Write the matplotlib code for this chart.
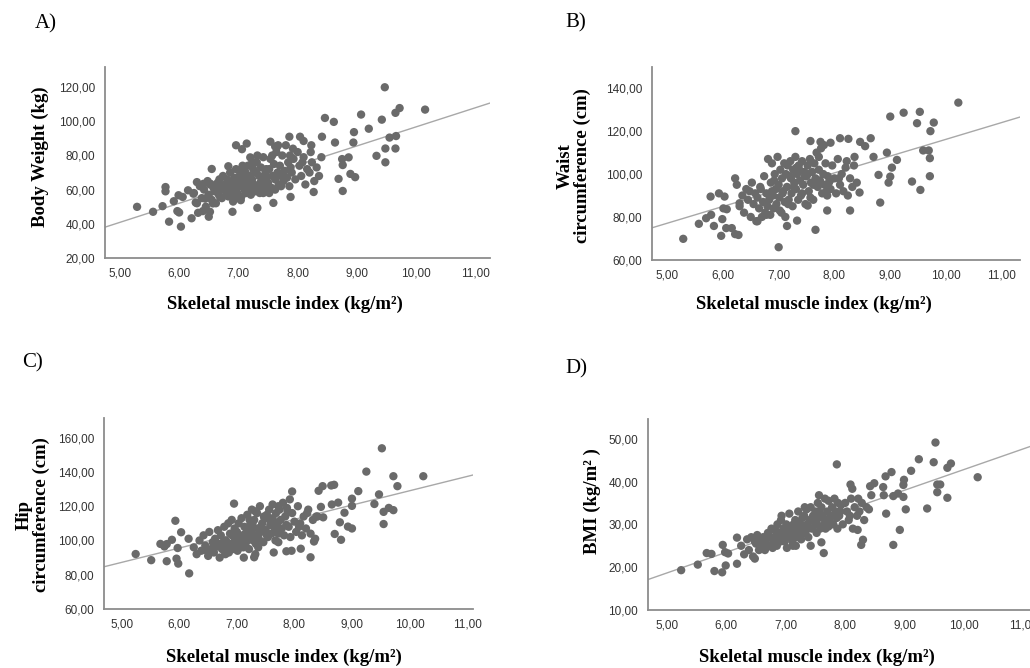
import numpy as np
import matplotlib.pyplot as plt
from matplotlib.ticker import FuncFormatter

# skeletal muscle index of the dense middle group (same x for all four panels)
smi_core = [6.25, 6.3, 6.35, 6.38, 6.42, 6.45, 6.5, 6.52, 6.55, 6.58,
            6.6, 6.62, 6.65, 6.67, 6.7, 6.72, 6.74, 6.76, 6.78, 6.8,
            6.81, 6.83, 6.85, 6.86, 6.88, 6.9, 6.91, 6.93, 6.95, 6.96,
            6.98, 7.0, 7.01, 7.03, 7.05, 7.06, 7.08, 7.1, 7.11, 7.13,
            7.15, 7.16, 7.18, 7.2, 7.21, 7.23, 7.25, 7.26, 7.28, 7.3,
            7.31, 7.33, 7.35, 7.36, 7.38, 7.4, 7.42, 7.44, 7.46, 7.48,
            7.5, 7.52, 7.54, 7.56, 7.58, 7.6, 7.62, 7.64, 7.66, 7.68,
            7.7, 7.72, 7.74, 7.76, 7.78, 7.8, 7.82, 7.84, 7.86, 7.88,
            7.9, 7.93, 7.96, 8.0, 8.03, 8.06, 8.1, 8.13, 8.16, 8.2,
            8.24, 8.28, 8.32, 8.36, 8.4, 6.88, 7.02, 7.22, 7.42, 7.62,
            7.12, 7.32, 7.52, 7.72, 7.92, 6.68, 6.78, 7.07, 7.27, 7.47,
            7.67, 7.87, 8.08, 8.22, 6.48, 6.62, 6.92, 7.17, 7.37, 7.57]

weight_core = [58, 52, 62, 55, 60, 50, 57, 63, 54, 61,
               59, 52, 64, 57, 61, 55, 68, 60, 63, 58,
               66, 56, 62, 70, 59, 64, 53, 67, 61, 72,
               58, 65, 62, 69, 56, 63, 71, 60, 66, 58,
               64, 74, 61, 68, 57, 66, 72, 63, 59, 70,
               76, 62, 68, 58, 73, 65, 79, 61, 70, 67,
               64, 72, 78, 61, 68, 75, 66, 82, 70, 63,
               74, 68, 80, 65, 71, 86, 67, 76, 62, 73,
               70, 78, 66, 82, 74, 68, 79, 63, 72, 70,
               76, 65, 73, 68, 79, 60, 55, 75, 58, 60,
               70, 80, 58, 62, 84, 66, 62, 74, 76, 72,
               86, 80, 76, 82, 65, 62, 56, 67, 64, 80]

waist_core = [95, 85, 90, 82, 93, 88, 80, 96, 86, 91,
              78, 89, 84, 94, 80, 87, 99, 82, 91, 85,
              107, 88, 81, 96, 105, 90, 84, 100, 93, 86,
              108, 95, 89, 102, 82, 98, 92, 105, 87, 100,
              94, 104, 88, 99, 106, 91, 85, 102, 96, 108,
              93, 100, 88, 104, 97, 90, 106, 95, 101, 86,
              99, 104, 92, 107, 96, 101, 88, 105, 98, 110,
              94, 102, 97, 112, 91, 100, 95, 105, 92, 99,
              96, 93, 104, 98, 91, 107, 95, 100, 92, 103,
              90, 98, 94, 108, 96, 92, 83, 98, 91, 95,
              80, 103, 100, 108, 97, 93, 81, 91, 94, 99,
              95, 90, 98, 106, 92, 78, 97, 86, 102, 89]

hip_core = [96, 92, 100, 94, 103, 97, 91, 105, 95, 99,
            93, 101, 97, 106, 90, 103, 95, 99, 108, 92,
            100, 96, 110, 93, 104, 98, 112, 95, 102, 107,
            99, 105, 94, 110, 101, 97, 113, 103, 96, 108,
            104, 99, 115, 102, 95, 109, 106, 118, 100, 112,
            103, 98, 116, 107, 101, 120, 105, 110, 99, 113,
            106, 115, 102, 118, 109, 104, 121, 111, 107, 116,
            110, 104, 118, 112, 107, 122, 103, 114, 109, 117,
            108, 102, 116, 111, 105, 120, 110, 103, 114, 107,
            118, 104, 112, 101, 114, 97, 95, 112, 108, 113,
            90, 117, 103, 120, 124, 98, 94, 100, 110, 114,
            100, 119, 108, 116, 94, 96, 103, 107, 96, 112]

bmi_core = [25, 23, 26.5, 24, 27, 22.5, 25.5, 27.5, 24, 26,
            25, 27, 24, 26.5, 28, 25, 27, 29, 25.5, 27,
            26, 28.5, 25, 30, 27, 28, 26, 32, 27.5, 29,
            26, 28, 30, 27, 29, 32.5, 27.5, 29.5, 26, 30,
            28, 31, 27, 29, 33, 28.5, 30, 26.5, 31.5, 29,
            32, 28, 33.5, 30, 27, 31, 34, 29, 32, 30.5,
            33, 30, 35, 31.5, 29, 34, 32, 30, 36, 31,
            33, 35.5, 31, 32, 34, 30, 36, 33, 31.5, 35,
            32, 34.5, 30, 35, 33, 31, 36, 29, 34, 32,
            33, 35, 31, 34, 33.5, 27, 24.5, 30.5, 25, 32,
            25, 34, 28, 29.5, 33, 25, 24.5, 27, 28, 31,
            29, 29, 32, 36, 26, 26.5, 31, 25, 29, 33]

# points outside the dense middle, read per panel
smi_a = [5.29, 5.56, 5.72, 5.77, 5.77, 5.83, 5.97, 6.0, 6.03, 5.91, 5.99, 6.06,
         6.15, 6.21, 6.24, 6.28, 6.3, 6.32, 6.4, 6.41, 6.44, 6.5, 6.52, 6.53,
         6.55, 6.57, 6.63, 6.69, 6.75, 6.83, 6.9, 6.96, 7.06, 7.14, 7.04, 7.32,
         7.2, 7.54, 7.62, 7.65, 7.59, 7.86, 7.88, 8.04, 8.1, 8.23, 8.27, 8.41,
         8.46, 8.61, 8.63, 8.69, 8.75, 8.76, 8.76, 8.86, 8.89, 8.97, 8.95, 8.94,
         9.07, 9.2, 9.33, 9.42, 9.47, 9.48, 9.48, 9.55, 9.65, 9.72, 9.65, 9.66,
         10.15]
weight_a = [49.9, 47.0, 50.3, 61.5, 59.0, 41.2, 47.4, 46.6, 38.3, 53.2, 56.7, 55.7,
            59.6, 43.2, 57.6, 52.4, 64.4, 46.4, 47.4, 63.4, 54.7, 44.1, 47.0, 63.4,
            72.1, 51.9, 60.5, 55.7, 62.5, 73.7, 47.0, 86.0, 83.7, 87.0, 53.8, 49.3,
            78.9, 88.1, 85.3, 85.0, 52.2, 91.0, 55.7, 91.0, 88.5, 86.0, 58.6, 91.0,
            102.0, 99.7, 87.6, 66.3, 77.9, 74.4, 59.2, 78.9, 69.2, 67.3, 93.7, 87.6,
            104.0, 95.7, 79.8, 101.0, 120.0, 76.0, 84.1, 90.5, 105.0, 107.8, 84.1, 91.4,
            106.9]

smi_b = [5.29, 5.57, 5.7, 5.79, 5.78, 5.84, 5.93, 5.97, 5.99, 6.03, 6.01, 6.06,
         6.07, 6.16, 6.22, 6.28, 6.22, 6.3, 7.0, 7.15, 7.33, 7.3, 7.66, 7.52,
         7.87, 8.28, 8.82, 8.97, 9.0, 9.03, 9.0, 9.24, 9.39, 9.48, 9.53, 9.54,
         9.59, 9.69, 9.71, 9.71, 9.72, 9.78, 10.22, 8.94, 9.12, 8.79, 8.7, 8.65,
         8.46, 8.1, 8.25, 7.93, 7.75, 7.57, 7.81, 8.45, 8.55, 8.35]
waist_b = [69.8, 76.8, 79.4, 81.0, 89.5, 75.8, 91.0, 71.2, 79.0, 89.5, 84.0, 74.8,
           83.6, 74.8, 72.0, 71.6, 98.0, 86.4, 65.9, 75.8, 78.3, 120.0, 74.0, 85.3,
           83.0, 83.0, 86.7, 96.0, 98.8, 103.0, 126.8, 128.6, 96.5, 123.7, 129.0, 92.6,
           111.0, 111.0, 107.4, 99.0, 120.0, 124.0, 133.3, 110.0, 106.6, 99.6, 108.0, 116.7,
           115.0, 116.7, 116.4, 114.6, 115.0, 115.4, 113.5, 91.4, 113.0, 104.0]

smi_c = [5.24, 5.51, 5.67, 5.78, 5.74, 5.78, 5.87, 5.93, 5.97, 5.95, 5.98, 6.03,
         6.17, 6.16, 6.95, 7.3, 7.32, 7.64, 7.72, 7.86, 7.95, 7.96, 8.11, 8.28,
         8.34, 8.42, 8.49, 8.64, 8.69, 8.46, 8.65, 8.76, 8.7, 8.81, 8.79, 8.87,
         8.93, 9.0, 9.0, 9.0, 9.11, 9.25, 9.39, 9.47, 9.52, 9.55, 9.55, 9.64,
         9.72, 9.72, 9.79, 10.24, 8.5, 8.38]
hip_c = [92.1, 88.5, 98.0, 97.9, 96.5, 87.9, 100.4, 111.5, 95.6, 89.4, 86.5, 104.8,
         80.8, 101.0, 121.5, 90.2, 92.0, 93.0, 99.0, 93.7, 94.0, 128.6, 95.2, 90.2,
         99.4, 129.0, 131.7, 132.1, 132.5, 119.6, 121.0, 122.1, 103.8, 100.4, 110.6, 116.2,
         108.1, 107.0, 120.2, 124.4, 128.8, 140.2, 121.3, 126.9, 153.8, 116.7, 109.6, 119.0,
         117.7, 137.5, 131.7, 137.5, 113.5, 114.0]

smi_d = [5.24, 5.52, 5.67, 5.75, 5.8, 5.93, 5.94, 5.99, 5.98, 6.03, 6.18, 6.18,
         6.48, 7.64, 7.6, 7.56, 7.86, 8.09, 8.12, 8.27, 8.3, 8.21, 8.44, 8.42,
         8.49, 8.64, 8.68, 8.78, 8.69, 8.65, 8.81, 8.92, 8.81, 8.89, 8.98, 8.99,
         8.98, 9.02, 9.11, 9.24, 9.38, 9.49, 9.52, 9.55, 9.6, 9.55, 9.72, 9.72,
         9.78, 10.23]
bmi_d = [19.3, 20.6, 23.3, 23.1, 19.1, 18.8, 25.2, 20.4, 23.5, 23.2, 20.8, 26.9,
         22.0, 23.3, 25.8, 36.8, 44.0, 39.3, 38.3, 25.2, 26.4, 28.7, 36.8, 38.9,
         39.6, 38.7, 41.2, 42.2, 32.5, 36.8, 25.2, 28.7, 36.6, 37.2, 36.4, 40.4,
         39.2, 33.5, 42.5, 45.2, 33.7, 44.5, 49.1, 39.3, 39.3, 37.5, 36.2, 43.2,
         44.2, 41.0]

# fit lines: (intercept, slope)
fit_a = (-15.2, 11.2)
fit_b = (37.9, 7.83)
fit_c = (45.5, 8.35)
fit_d = (-5.5, 4.83)

x_ticks = [5, 6, 7, 8, 9, 10, 11]

panels = [
    dict(letter='A)', ylabel='Body Weight (kg)', y_core=weight_core, x_ext=smi_a, y_ext=weight_a,
         fit=fit_a, yticks=[20, 40, 60, 80, 100, 120], ylim=(20, 131.6), xlim=(4.75, 11.25),
         rect=[0.102, 0.614, 0.374, 0.285], letter_xy=(35, 24), xlab_xy=(285, 304), ylab_xy=(40, 157)),
    dict(letter='B)', ylabel='Waist\ncircumference (cm)', y_core=waist_core, x_ext=smi_b, y_ext=waist_b,
         fit=fit_b, yticks=[60, 80, 100, 120, 140], ylim=(60, 150), xlim=(4.73, 11.32),
         rect=[0.633, 0.611, 0.357, 0.289], letter_xy=(565, 23), xlab_xy=(814, 304), ylab_xy=(574, 166)),
    dict(letter='C)', ylabel='Hip\ncircumference (cm)', y_core=hip_core, x_ext=smi_c, y_ext=hip_c,
         fit=fit_c, yticks=[60, 80, 100, 120, 140, 160], ylim=(60, 171.5), xlim=(4.69, 11.1),
         rect=[0.101, 0.0883, 0.358, 0.286], letter_xy=(22, 363), xlab_xy=(284, 657), ylab_xy=(33, 515)),
    dict(letter='D)', ylabel='BMI (kg/m² )', y_core=bmi_core, x_ext=smi_d, y_ext=bmi_d,
         fit=fit_d, yticks=[10, 20, 30, 40, 50], ylim=(10, 54.6), xlim=(4.68, 11.18),
         rect=[0.629, 0.0868, 0.375, 0.286], letter_xy=(565, 369), xlab_xy=(817, 657), ylab_xy=(592, 501)),
]

W, H = 1030, 668
fig = plt.figure(figsize=(W / 100, H / 100), dpi=100)
comma = FuncFormatter(lambda v, p: f'{v:.2f}'.replace('.', ','))
serif = 'Liberation Serif'

for p in panels:
    ax = fig.add_axes(p['rect'])
    xs = np.concatenate([smi_core, p['x_ext']])
    ys = np.concatenate([p['y_core'], p['y_ext']])
    ax.scatter(xs, ys, s=36, color='#6a6a6a', edgecolors='none', zorder=3)
    b0, b1 = p['fit']
    ax.axline((0, b0), slope=b1, color='#a8a8a8', lw=1.0, zorder=2)
    ax.set_xlim(*p['xlim'])
    ax.set_ylim(*p['ylim'])
    ax.set_xticks(x_ticks)
    ax.set_yticks(p['yticks'])
    ax.xaxis.set_major_formatter(comma)
    ax.yaxis.set_major_formatter(comma)
    ax.tick_params(length=0, labelsize=8.5, labelcolor='#333333', pad=7)
    for lab in ax.get_xticklabels() + ax.get_yticklabels():
        lab.set_family('Liberation Sans')
    for s in ['top', 'right']:
        ax.spines[s].set_visible(False)
    for s in ['left', 'bottom']:
        ax.spines[s].set_color('#8c8c8c')
        ax.spines[s].set_linewidth(1.3)

    lx, ly = p['letter_xy']
    fig.text(lx / W, 1 - ly / H, p['letter'], family=serif, fontsize=15, ha='left', va='center')
    tx, ty = p['xlab_xy']
    fig.text(tx / W, 1 - ty / H, 'Skeletal muscle index (kg/m²)', family=serif,
             fontweight='bold', fontsize=13.5, ha='center', va='center')
    yx, yy = p['ylab_xy']
    fig.text(yx / W, 1 - yy / H, p['ylabel'], family=serif, fontweight='bold', fontsize=13.5,
             ha='center', va='center', rotation=90, multialignment='center', linespacing=1.0)

fig.savefig('out.png', dpi=100)
